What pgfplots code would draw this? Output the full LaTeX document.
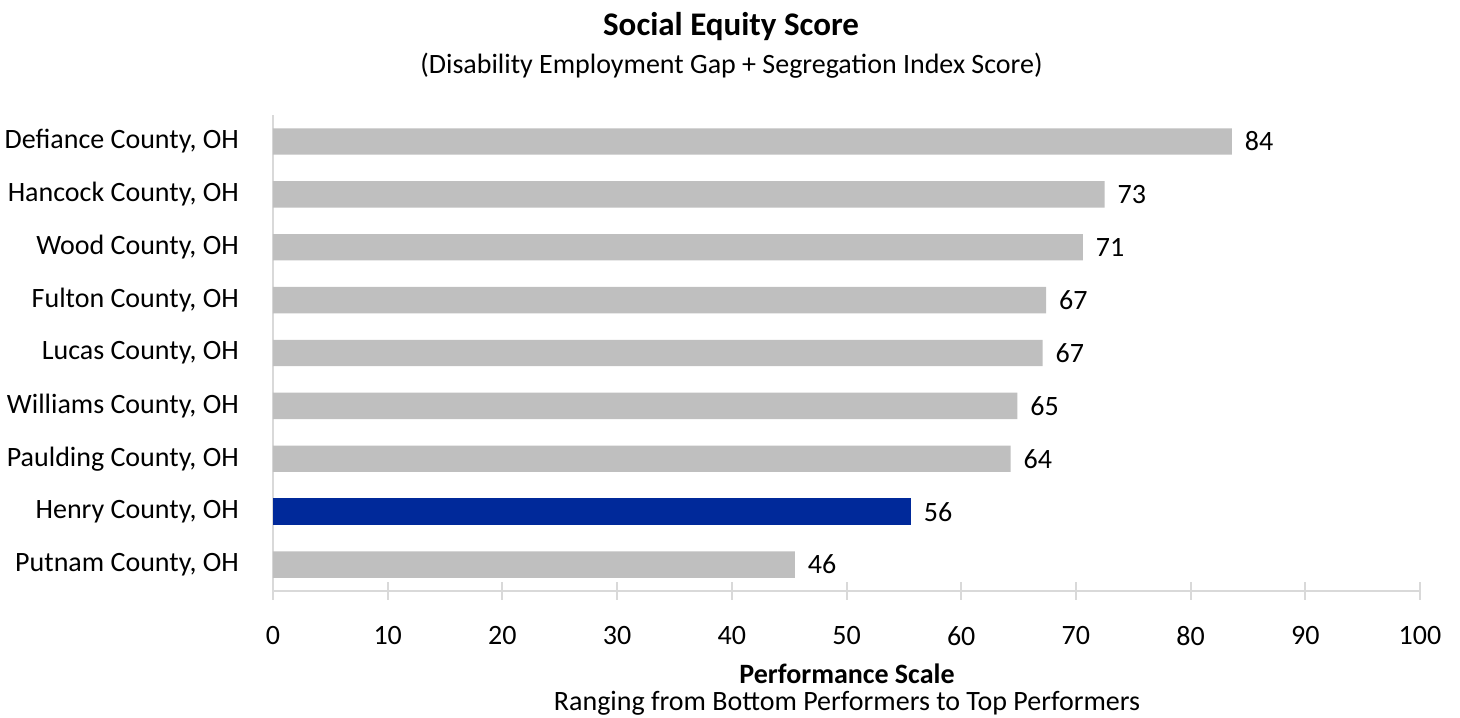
\documentclass[border=0pt]{standalone}
\usepackage{fontspec}
\setmainfont{Carlito}
\usepackage{pgfplots}
\pgfplotsset{compat=1.18}
\definecolor{barg}{HTML}{BFBFBF}
\definecolor{barb}{HTML}{00299A}
\definecolor{axg}{HTML}{D9D9D9}

\begin{document}
\begin{tikzpicture}
\useasboundingbox (-136.5pt,-63pt) rectangle (593.5pt,295.5pt);
\begin{axis}[
  at={(0,0)}, anchor=south west,
  scale only axis, width=573.5pt, height=238pt,
  xbar, bar width=13.2pt, bar shift=0pt,
  xmin=0, xmax=100, ymin=0.5, ymax=9.5,
  axis x line*=bottom, axis y line*=left,
  axis line style={axg, line width=1pt, -},
  xtick={0,10,...,100}, ytick={1,...,9},
  yticklabels={{Putnam County, OH}, {Henry County, OH}, {Paulding County, OH},
    {Williams County, OH}, {Lucas County, OH}, {Fulton County, OH},
    {Wood County, OH}, {Hancock County, OH}, {Defiance County, OH}},
  tick align=center, major tick length=8.5pt,
  ytick style={draw=none}, xtick style={axg, line width=1pt},
  /pgf/number format/assume math mode=true,
  tick label style={font=\fontsize{14}{16.8}\selectfont, black},
  xticklabel style={yshift=-9.8pt},
  yticklabel style={xshift=-9.3pt},
  nodes near coords, point meta=explicit symbolic,
  every node near coord/.append style={anchor=west, xshift=3pt, black,
    font=\fontsize{14}{16.8}\selectfont},
  clip=false,
]
\addplot[fill=barg, draw=none] coordinates {
  (83.6,9) [84] (72.5,8) [73] (70.6,7) [71] (67.4,6) [67]
  (67.1,5) [67] (64.9,4) [65] (64.3,3) [64] (45.5,1) [46]};
\addplot[fill=barb, draw=none] coordinates {(55.6,2) [56]};
\end{axis}
\node[anchor=base, font=\bfseries\fontsize{16.5}{19}\selectfont] at (229pt,277.5pt) {Social Equity Score};
\node[anchor=base, font=\fontsize{14}{16.8}\selectfont] at (229.25pt,258.5pt) {(Disability Employment Gap + Segregation Index Score)};
\node[anchor=base, font=\bfseries\fontsize{14}{16.8}\selectfont] at (287pt,-46pt) {Performance Scale};
\node[anchor=base, font=\fontsize{14}{16.8}\selectfont] at (287pt,-59.5pt) {Ranging from Bottom Performers to Top Performers};
\end{tikzpicture}
\end{document}
